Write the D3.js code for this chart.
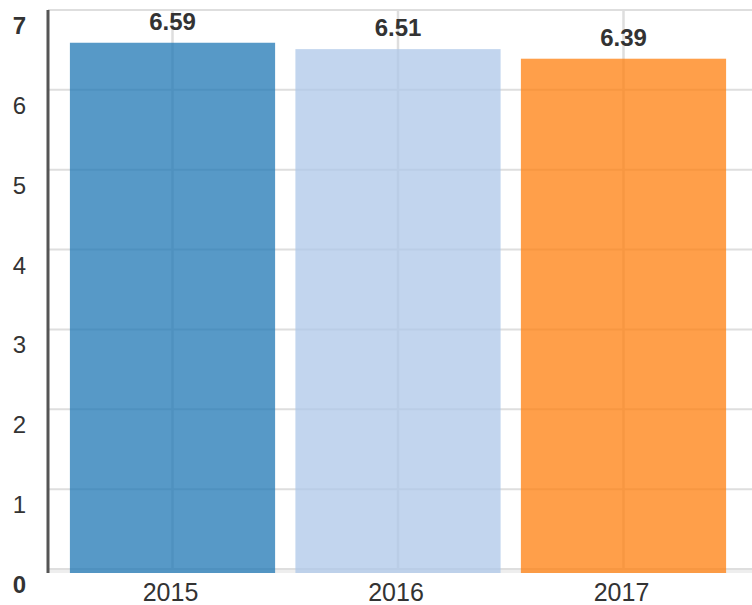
<!DOCTYPE html>
<html lang="en">
  <head>
    <meta charset="UTF-8" />
    <title>Yearly values</title>
    <script src="https://d3js.org/d3.v7.min.js"></script>
    <style>
      body {
        margin: 0;
        font-family: "Liberation Sans", Arial, sans-serif;
        background: #fff;
      }
    </style>
  </head>
  <body>
    <div id="chart"></div>
    <script>
      const years = ["2015", "2016", "2017"]
      const values = [6.59, 6.51, 6.39]
      const barColors = ["#1f77b4", "#aec7e8", "#ff7f0e"]
      const yTicks = [0, 1, 2, 3, 4, 5, 6, 7]

      const width = 752,
        height = 605

      const svg = d3
        .select("#chart")
        .append("svg")
        .attr("width", width)
        .attr("height", height)

      const x = d3.scaleBand().domain(years).range([46, 750]).paddingInner(0.09).paddingOuter(0.106)
      const y = d3.scaleLinear().domain([0, 7]).range([569, 10])
      const plotLeft = 48,
        plotBottom = 573

      // horizontal grid
      svg
        .append("g")
        .selectAll("line")
        .data(yTicks)
        .join("line")
        .attr("x1", plotLeft)
        .attr("x2", width)
        .attr("y1", d => y(d))
        .attr("y2", d => y(d))
        .attr("stroke", "#dedede")
        .attr("stroke-width", 2)

      // vertical grid at bar centres
      svg
        .append("g")
        .selectAll("line")
        .data(years)
        .join("line")
        .attr("x1", d => x(d) + x.bandwidth() / 2)
        .attr("x2", d => x(d) + x.bandwidth() / 2)
        .attr("y1", y(7))
        .attr("y2", plotBottom)
        .attr("stroke", "#dedede")
        .attr("stroke-width", 2.5)

      // light bottom line
      svg
        .append("line")
        .attr("x1", plotLeft)
        .attr("x2", width)
        .attr("y1", 571.5)
        .attr("y2", 571.5)
        .attr("stroke", "#eeeeee")
        .attr("stroke-width", 3)

      // bars
      svg
        .append("g")
        .selectAll("rect")
        .data(years)
        .join("rect")
        .attr("x", d => x(d))
        .attr("width", x.bandwidth())
        .attr("y", (d, i) => y(values[i]))
        .attr("height", (d, i) => plotBottom - y(values[i]))
        .attr("fill", (d, i) => barColors[i])
        .attr("fill-opacity", 0.75)

      // value labels
      svg
        .append("g")
        .selectAll("text")
        .data(years)
        .join("text")
        .attr("x", d => x(d) + x.bandwidth() / 2)
        .attr("y", (d, i) => y(values[i]) - 13)
        .attr("text-anchor", "middle")
        .attr("font-size", 24)
        .attr("font-weight", "bold")
        .attr("fill", "#333")
        .text((d, i) => values[i].toFixed(2))

      // y axis line
      svg
        .append("line")
        .attr("x1", plotLeft)
        .attr("x2", plotLeft)
        .attr("y1", 10)
        .attr("y2", plotBottom)
        .attr("stroke", "#555")
        .attr("stroke-width", 3)

      // y tick labels (ends bold)
      svg
        .append("g")
        .selectAll("text")
        .data(yTicks)
        .join("text")
        .attr("x", 26)
        .attr("y", d => y(d) + 24)
        .attr("text-anchor", "end")
        .attr("font-size", 24)
        .attr("font-weight", d => (d === 0 || d === 7 ? "bold" : "normal"))
        .attr("fill", "#333")
        .text(d => d)

      // x labels
      svg
        .append("g")
        .selectAll("text")
        .data(years)
        .join("text")
        .attr("x", d => x(d) + x.bandwidth() / 2 - 2)
        .attr("y", 601)
        .attr("text-anchor", "middle")
        .attr("font-size", 25)
        .attr("fill", "#333")
        .text(d => d)
    </script>
  </body>
</html>
